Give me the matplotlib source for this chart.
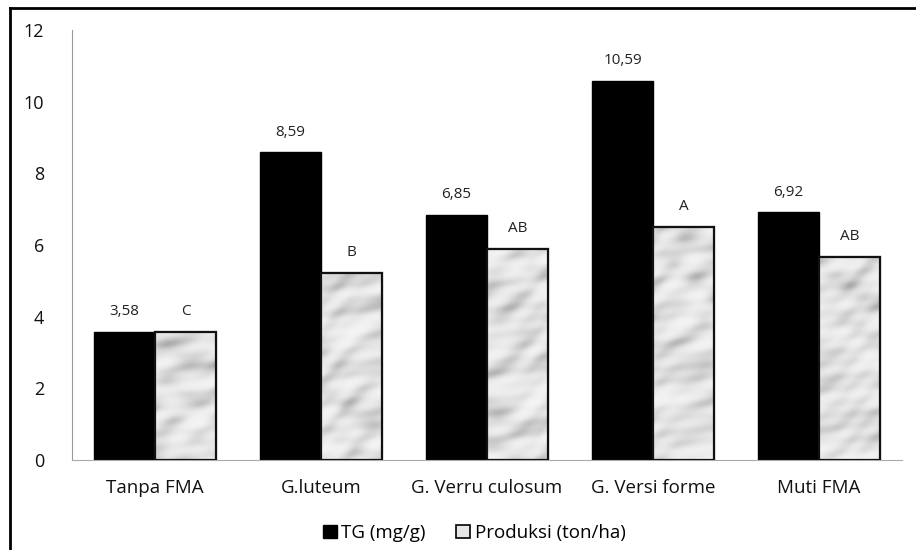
import numpy as np
import matplotlib
matplotlib.use("Agg")
import matplotlib.pyplot as plt
from matplotlib.lines import Line2D
from matplotlib.patches import Patch

plt.rcParams["font.family"] = ["Open Sans", "DejaVu Sans"]

categories = ["Tanpa FMA", "G.luteum", "G. Verru culosum", "G. Versi forme", "Muti FMA"]
tg = [3.58, 8.59, 6.85, 10.59, 6.92]
produksi = [3.58, 5.22, 5.89, 6.51, 5.67]
tg_labels = ["3,58", "8,59", "6,85", "10,59", "6,92"]
prod_labels = ["C", "B", "AB", "A", "AB"]
yticks = [0, 2, 4, 6, 8, 10, 12]

W, H = 916, 550
fig = plt.figure(figsize=(W / 100, H / 100), dpi=100)
ax = fig.add_axes([72 / W, (H - 460) / H, (902 - 72) / W, 430 / H])

x = np.arange(len(categories))
bw = 0.367

ax.bar(x - bw / 2, tg, bw, color="black", edgecolor="black", linewidth=1, zorder=2)
gray_bars = ax.bar(x + bw / 2, produksi, bw, color="#e6e6e6", edgecolor="black",
                   linewidth=1.5, zorder=2)

# cloudy marble-like texture on the axes pixel grid, clipped into grey bars
py, px = np.mgrid[0:430, 0:830].astype(float)
u = -0.5 * px + 0.87 * py
v = 0.87 * px + 0.5 * py
n = (0.50 * np.sin(0.19 * u + 2.5 * np.sin(0.035 * v))
     + 0.40 * np.sin(0.07 * v + 0.11 * u + 1.8 * np.sin(0.09 * u))
     + 0.30 * np.sin(0.31 * u - 0.05 * v + 1.4 * np.sin(0.06 * px))
     + 0.30 * np.sin(0.045 * px + 0.13 * py + 2.0 * np.sin(0.05 * v))
     + 0.20 * np.sin(0.45 * u + 0.2 * v))
n = (n - n.min()) / (n.max() - n.min())
tex = 0.95 - 0.30 * n ** 2.2
for b in gray_bars:
    im = ax.imshow(tex, cmap="gray", vmin=0, vmax=1, aspect="auto",
                   extent=(-0.5, 4.5, 0, 12), origin="lower", zorder=2.5,
                   interpolation="bilinear")
    im.set_clip_path(b)
    ax.add_patch(plt.Rectangle((b.get_x(), b.get_y()), b.get_width(), b.get_height(),
                               fill=False, edgecolor="#111111", linewidth=1.6, zorder=3))

for i in range(len(categories)):
    ax.annotate(tg_labels[i], (x[i] - bw / 2, tg[i]), xytext=(0, 9),
                textcoords="offset points", ha="center", va="bottom",
                fontsize=11, color="#222222")
    ax.annotate(prod_labels[i], (x[i] + bw / 2, produksi[i]), xytext=(0, 9),
                textcoords="offset points", ha="center", va="bottom",
                fontsize=11, color="#222222")

ax.set_xlim(-0.5, len(categories) - 0.5)
ax.set_ylim(0, 12)
ax.set_yticks(yticks)
ax.set_xticks(x)
ax.set_xticklabels(categories, fontsize=13.5, color="#111111")
ax.tick_params(axis="y", length=0, pad=20, labelsize=13, labelcolor="#111111")
ax.tick_params(axis="x", length=0, pad=14)
for s in ["top", "right"]:
    ax.spines[s].set_visible(False)
ax.spines["left"].set_color("#999999")
ax.spines["bottom"].set_color("#aaaaaa")
ax.spines["left"].set_zorder(1)

handles = [Patch(facecolor="black", edgecolor="black"),
           Patch(facecolor="#e6e6e6", edgecolor="black", linewidth=1.2)]
fig.legend(handles, ["TG (mg/g)", "Produksi (ton/ha)"], loc="center",
           bbox_to_anchor=(474 / W, (H - 533) / H), ncol=2, frameon=False,
           fontsize=13.5, handlelength=0.75, handleheight=0.75, handletextpad=0.25,
           columnspacing=1.6, borderpad=0)

# outer frame (only left and top visible)
fig.add_artist(Line2D([10 / W, 10 / W], [0, 1 - 8 / H], color="black", linewidth=2))
fig.add_artist(Line2D([10 / W, 1], [1 - 8 / H, 1 - 8 / H], color="black", linewidth=2))

fig.savefig("out.png", dpi=100)
